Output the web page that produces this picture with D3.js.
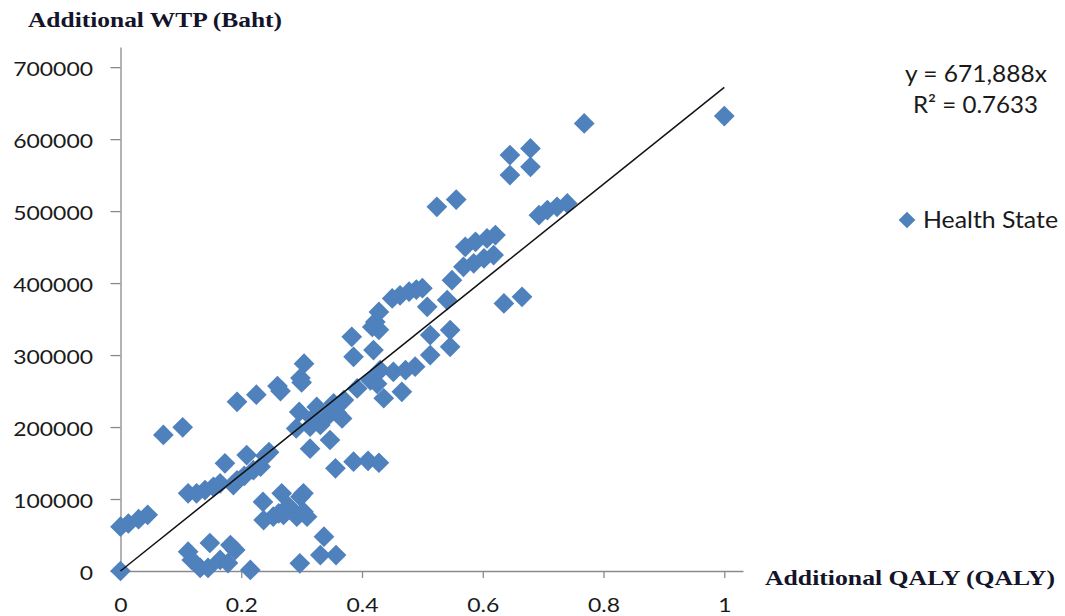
<!DOCTYPE html>
<html>
<head>
<meta charset="utf-8">
<script src="https://cdn.jsdelivr.net/npm/d3@7"></script>
<style>
  html, body { margin: 0; padding: 0; background: #fff; }
  svg { display: block; }
</style>
</head>
<body>
<svg id="chart" width="1065" height="616"></svg>
<script>
// Additional QALY gained per health state (x) and the matching additional WTP in Baht (y)
const qaly = [
  0, 0, 0.013, 0.03, 0.045, 0.071, 0.103,
  0.112, 0.118, 0.132, 0.148, 0.145, 0.165, 0.182, 0.19, 0.178, 0.215,
  0.112, 0.126, 0.14, 0.154, 0.165, 0.187,
  0.173, 0.193, 0.205, 0.209, 0.22, 0.232, 0.24, 0.246,
  0.193, 0.225, 0.26, 0.265, 0.298, 0.3, 0.304, 0.296,
  0.236, 0.237, 0.253, 0.262, 0.267, 0.27, 0.278, 0.284, 0.292, 0.298, 0.303, 0.303, 0.309,
  0.297, 0.331, 0.337, 0.357,
  0.291, 0.314, 0.318, 0.325, 0.331, 0.342, 0.347, 0.353, 0.358, 0.367, 0.37, 0.314, 0.356,
  0.383, 0.386, 0.386, 0.392, 0.41, 0.414, 0.419, 0.417, 0.422, 0.428, 0.428, 0.43, 0.425, 0.428, 0.436,
  0.45, 0.463, 0.478, 0.49, 0.5, 0.452, 0.466, 0.472, 0.488,
  0.508, 0.513, 0.513, 0.546, 0.546, 0.541, 0.549, 0.524, 0.556,
  0.568, 0.571, 0.585, 0.588, 0.602, 0.607, 0.618, 0.621, 0.635, 0.665,
  0.645, 0.645, 0.679, 0.679, 0.693, 0.707, 0.723, 0.74, 0.768, 1.0
];
const wtp = [
  0, 61500, 66000, 72000, 78000, 189000, 199600,
  26800, 15300, 4200, 38900, 4200, 15300, 36100, 29200, 11100, 1400,
  108000, 108000, 112500, 117000, 121800, 119400,
  149600, 126000, 132000, 161000, 140000, 145000, 160000, 165000,
  235000, 245000, 257000, 250000, 268000, 262000, 288000, 221000,
  96000, 70800, 75400, 80000, 108000, 77800, 90000, 84700, 75400, 103000, 108000, 82400, 75400,
  10700, 22200, 47600, 22200,
  198000, 200500, 212000, 228000, 203000, 214000, 182000, 233000, 220000, 212000, 237500, 170000, 142600,
  325400, 297600, 151800, 253700, 153000, 265000, 307000, 339000, 346000, 360000, 335000, 279000, 260000, 150400, 240000,
  378700, 383000, 388000, 391000, 393000, 276800, 249000, 279000, 283800,
  367000, 327800, 300000, 334700, 311500, 376400, 404000, 506000, 516000,
  422600, 450400, 427400, 457400, 434300, 462000, 438900, 466700, 371800, 381000,
  577800, 550000, 587000, 561500, 494400, 501400, 506000, 510700, 621800, 632000
];

const xTicks = [0, 0.2, 0.4, 0.6, 0.8, 1];
const yTicks = [0, 100000, 200000, 300000, 400000, 500000, 600000, 700000];

// Fitted line through the origin
const trendSlope = 671888;
const trendR2 = 0.7633;
const trendLabel = "y = " + d3.format(",")(trendSlope) + "x";
const r2Label = "R\u00B2 = " + trendR2;
const seriesName = "Health State";
const xTitle = "Additional QALY (QALY)";
const yTitle = "Additional WTP (Baht)";

const svg = d3.select("#chart");
const blue = "#4F81BD";
const axisGrey = "#8a8a8a";
const labelFont = "Lato, 'Open Sans', sans-serif";
const titleFont = "'Liberation Serif', 'Times New Roman', serif";

// Axis lines run a little past the last tick, as in the original layout
const x = d3.scaleLinear().domain([0, 1.031]).range([120.5, 743]);
const y = d3.scaleLinear().domain([0, 728000]).range([571, 47]);

// width a tick label occupies (wide digits)
function labelWidth(s) {
  let w = 0;
  for (const c of s) w += (c === "." ? 5.5 : 13.3);
  return w;
}

// Y axis
const yAxis = svg.append("g")
  .attr("transform", `translate(${x(0)},0)`)
  .call(d3.axisLeft(y).tickValues(yTicks).tickFormat(d3.format("d")).tickSize(10).tickSizeOuter(0));
yAxis.select(".domain").attr("stroke", axisGrey).attr("stroke-width", 1.3);
yAxis.selectAll(".tick line").attr("stroke", axisGrey).attr("stroke-width", 1.3);
yAxis.selectAll(".tick text")
  .attr("x", -27.5).attr("dy", null).attr("y", 8.5)
  .attr("fill", "#1a1a1a")
  .style("font-family", labelFont).style("font-size", "19px")
  .attr("textLength", function () { return labelWidth(this.textContent); })
  .attr("lengthAdjust", "spacingAndGlyphs");

// X axis
const xAxis = svg.append("g")
  .attr("transform", `translate(0,${y(0)})`)
  .call(d3.axisBottom(x).tickValues(xTicks).tickFormat(d3.format("")).tickSize(7).tickSizeOuter(0));
xAxis.select(".domain").attr("stroke", axisGrey).attr("stroke-width", 1.3);
xAxis.selectAll(".tick line").attr("stroke", axisGrey).attr("stroke-width", 1.3);
xAxis.selectAll(".tick text")
  .attr("y", 41).attr("dy", null)
  .attr("fill", "#1a1a1a")
  .style("font-family", labelFont).style("font-size", "19px")
  .attr("textLength", function () { return labelWidth(this.textContent); })
  .attr("lengthAdjust", "spacingAndGlyphs");
svg.selectAll(".tick text").attr("font-family", null);

// Health state points: squares turned 45 degrees
const pts = qaly.map((q, i) => ({ q, w: wtp[i] }));
const diamond = d3.symbol().type(d3.symbolSquare).size(215);
svg.append("g").selectAll("path")
  .data(pts)
  .join("path")
  .attr("d", diamond)
  .attr("transform", d => `translate(${x(d.q)},${y(d.w)}) rotate(45)`)
  .attr("fill", blue);

// Trend line from 0 to 1 QALY
const trendXs = [0, 1];
svg.append("path")
  .datum(trendXs)
  .attr("d", d3.line().x(d => x(d)).y(d => y(trendSlope * d)))
  .attr("stroke", "#111")
  .attr("stroke-width", 1.5)
  .attr("fill", "none");

// Axis titles
svg.append("text")
  .attr("x", 28).attr("y", 27)
  .attr("textLength", 254).attr("lengthAdjust", "spacingAndGlyphs")
  .style("font-family", titleFont).style("font-weight", "bold").style("font-size", "21px")
  .attr("fill", "#14142a")
  .text(yTitle);
svg.append("text")
  .attr("x", 765).attr("y", 585)
  .attr("textLength", 290).attr("lengthAdjust", "spacingAndGlyphs")
  .style("font-family", titleFont).style("font-weight", "bold").style("font-size", "21px")
  .attr("fill", "#14142a")
  .text(xTitle);

// Trend equation and R squared
svg.append("text")
  .attr("x", 976).attr("y", 82).attr("text-anchor", "middle")
  .attr("textLength", 142).attr("lengthAdjust", "spacingAndGlyphs")
  .style("font-family", labelFont).style("font-size", "23px")
  .attr("fill", "#1a1a1a")
  .text(trendLabel);
svg.append("text")
  .attr("x", 975.5).attr("y", 113).attr("text-anchor", "middle")
  .attr("textLength", 125).attr("lengthAdjust", "spacingAndGlyphs")
  .style("font-family", labelFont).style("font-size", "23px")
  .attr("fill", "#1a1a1a")
  .text(r2Label);

// Legend
const legend = svg.append("g").attr("transform", "translate(907,220)");
legend.append("path")
  .attr("d", d3.symbol().type(d3.symbolSquare).size(140))
  .attr("transform", "rotate(45)")
  .attr("fill", blue);
legend.append("text")
  .attr("x", 16).attr("y", 8)
  .attr("textLength", 135).attr("lengthAdjust", "spacingAndGlyphs")
  .style("font-family", labelFont).style("font-size", "23px")
  .attr("fill", "#1a1a1a")
  .text(seriesName);
</script>
</body>
</html>
